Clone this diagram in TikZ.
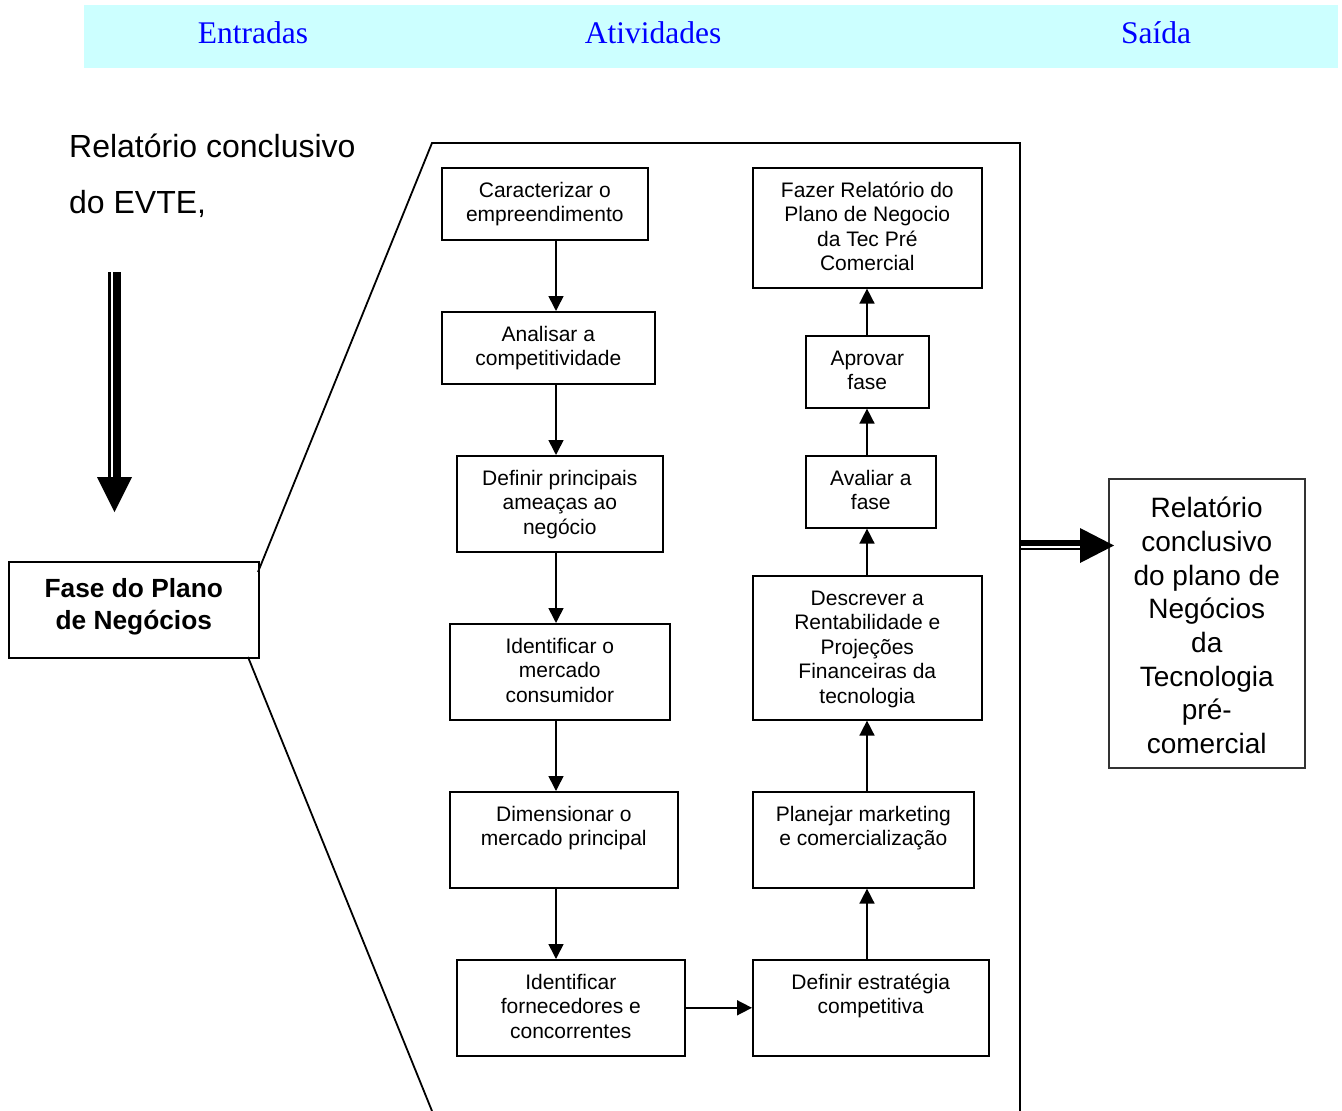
\documentclass[tikz,border=0pt]{standalone}
\usepackage{fontspec}
\setmainfont{Liberation Serif}
\setsansfont{Liberation Sans}
\usetikzlibrary{arrows.meta}
\definecolor{bandcyan}{HTML}{CCFFFF}
\definecolor{headblue}{HTML}{0000FF}
% box content: fixed width and height, text centred and hung from the top
\newcommand\topbox[4][12.3pt]{\parbox[c][#3][t]{#2}{\centering\vspace*{#1}\strut#4\par}}
\begin{document}
\begin{tikzpicture}[x=1pt,y=-1pt,
  stepbox/.style={draw, line width=1.6pt, inner sep=0pt, anchor=north west,
    font=\sffamily\fontsize{21}{24.5}\selectfont},
  flow/.style={line width=1.6pt, -{Triangle[length=15pt,width=15pt]}},
  frameline/.style={line width=1.8pt},
  header/.style={anchor=base, text=headblue, inner sep=0pt,
    font=\rmfamily\fontsize{31.5}{36}\selectfont}]
\useasboundingbox (0,0) rectangle (1342,1111);

% header band
\fill[bandcyan] (84,5) rectangle (1338,68);
\node[header] (hin)  at (253,43)  {Entradas};
\node[header] (hact) at (653,43)  {Atividades};
\node[header] (hout) at (1156,43) {Saída};

% input text and downward double arrow
\node[anchor=north west, inner sep=0pt, align=left,
  font=\sffamily\fontsize{32}{56}\selectfont] (rin) at (69,117.8)
  {\strut Relatório conclusivo\\do EVTE,};
\coordinate (dtop) at (114.5,272);
\coordinate (dtip) at (114.5,512);
% (shifts are in page direction: positive yshift goes up)
\draw[line width=2.5pt] ([xshift=-5pt]dtop) -- ([xshift=-5pt,yshift=32pt]dtip);
\draw[line width=7.3pt] ([xshift=2.5pt]dtop) -- ([xshift=2.5pt,yshift=32pt]dtip);
\fill (dtip) -- ([xshift=-17.5pt,yshift=35pt]dtip) -- ([xshift=17.5pt,yshift=35pt]dtip) -- cycle;

% phase box
\node[draw, line width=1.6pt, inner sep=0pt, anchor=north west,
  font=\sffamily\bfseries\fontsize{26.3}{32}\selectfont] (fase) at (8,561)
  {\topbox[13pt]{250pt}{96pt}{Fase do Plano\\de Negócios}};

% expanded frame of the activities
\draw[frameline] (258,572) -- (432,143) -- (1020,143) -- (1020,1111);
\draw[frameline] (248,657) -- (432,1111);

% left column
\node[stepbox] (b1) at (441,167) {\topbox{206pt}{72pt}{Caracterizar o\\empreendimento}};
\node[stepbox] (b2) at (441,311) {\topbox{213pt}{72pt}{Analisar a\\competitividade}};
\node[stepbox] (b3) at (456,455) {\topbox{206pt}{96pt}{Definir principais\\ameaças ao\\negócio}};
\node[stepbox] (b4) at (449,623) {\topbox{220pt}{96pt}{Identificar o\\mercado\\consumidor}};
\node[stepbox] (b5) at (449,791) {\topbox{228pt}{96pt}{Dimensionar o\\mercado principal}};
\node[stepbox] (b6) at (456,959) {\topbox{228pt}{96pt}{Identificar\\fornecedores e\\concorrentes}};

% right column
\node[stepbox] (b7)  at (752,959) {\topbox{236pt}{96pt}{Definir estratégia\\competitiva}};
\node[stepbox] (b8)  at (752,791) {\topbox{221pt}{96pt}{Planejar marketing\\e comercialização}};
\node[stepbox] (b9)  at (752,575) {\topbox{229pt}{144pt}{Descrever a\\Rentabilidade e\\Projeções\\Financeiras da\\tecnologia}};
\node[stepbox] (b10) at (805,455) {\topbox{130pt}{72pt}{Avaliar a\\fase}};
\node[stepbox] (b11) at (805,335) {\topbox{123pt}{72pt}{Aprovar\\fase}};
\node[stepbox] (b12) at (752,167) {\topbox{229pt}{120pt}{Fazer Relatório do\\Plano de Negocio\\da Tec Pré\\Comercial}};

% connectors
\coordinate (colL) at (556,0);
\coordinate (colR) at (867,0);
\draw[flow] (b1.south -| colL) -- (b2.north -| colL);
\draw[flow] (b2.south -| colL) -- (b3.north -| colL);
\draw[flow] (b3.south -| colL) -- (b4.north -| colL);
\draw[flow] (b4.south -| colL) -- (b5.north -| colL);
\draw[flow] (b5.south -| colL) -- (b6.north -| colL);
\draw[flow] (b6.east) -- (b7.west);
\draw[flow] (b7.north -| colR) -- (b8.south -| colR);
\draw[flow] (b8.north -| colR) -- (b9.south -| colR);
\draw[flow] (b9.north -| colR) -- (b10.south -| colR);
\draw[flow] (b10.north -| colR) -- (b11.south -| colR);
\draw[flow] (b11.north -| colR) -- (b12.south -| colR);

% output box and double arrow towards it
\node[draw=black!80, line width=1.5pt, inner sep=0pt, anchor=north west,
  font=\sffamily\fontsize{28}{33.7}\selectfont] (rout) at (1108,478)
  {\topbox[15.4pt]{196pt}{289pt}{Relatório\\conclusivo\\do plano de\\Negócios\\da\\Tecnologia\\pré-\\comercial}};
\coordinate (rstart) at (1020,545.5);
\draw[line width=6pt] ([yshift=2.5pt]rstart) -- ([xshift=62pt,yshift=2.5pt]rstart);
\draw[line width=2.4pt] ([yshift=-3.7pt]rstart) -- ([xshift=62pt,yshift=-3.7pt]rstart);
\fill ([xshift=60pt,yshift=-17.5pt]rstart) -- ([xshift=60pt,yshift=17.5pt]rstart) -- ([xshift=94pt]rstart) -- cycle;
\end{tikzpicture}
\end{document}
